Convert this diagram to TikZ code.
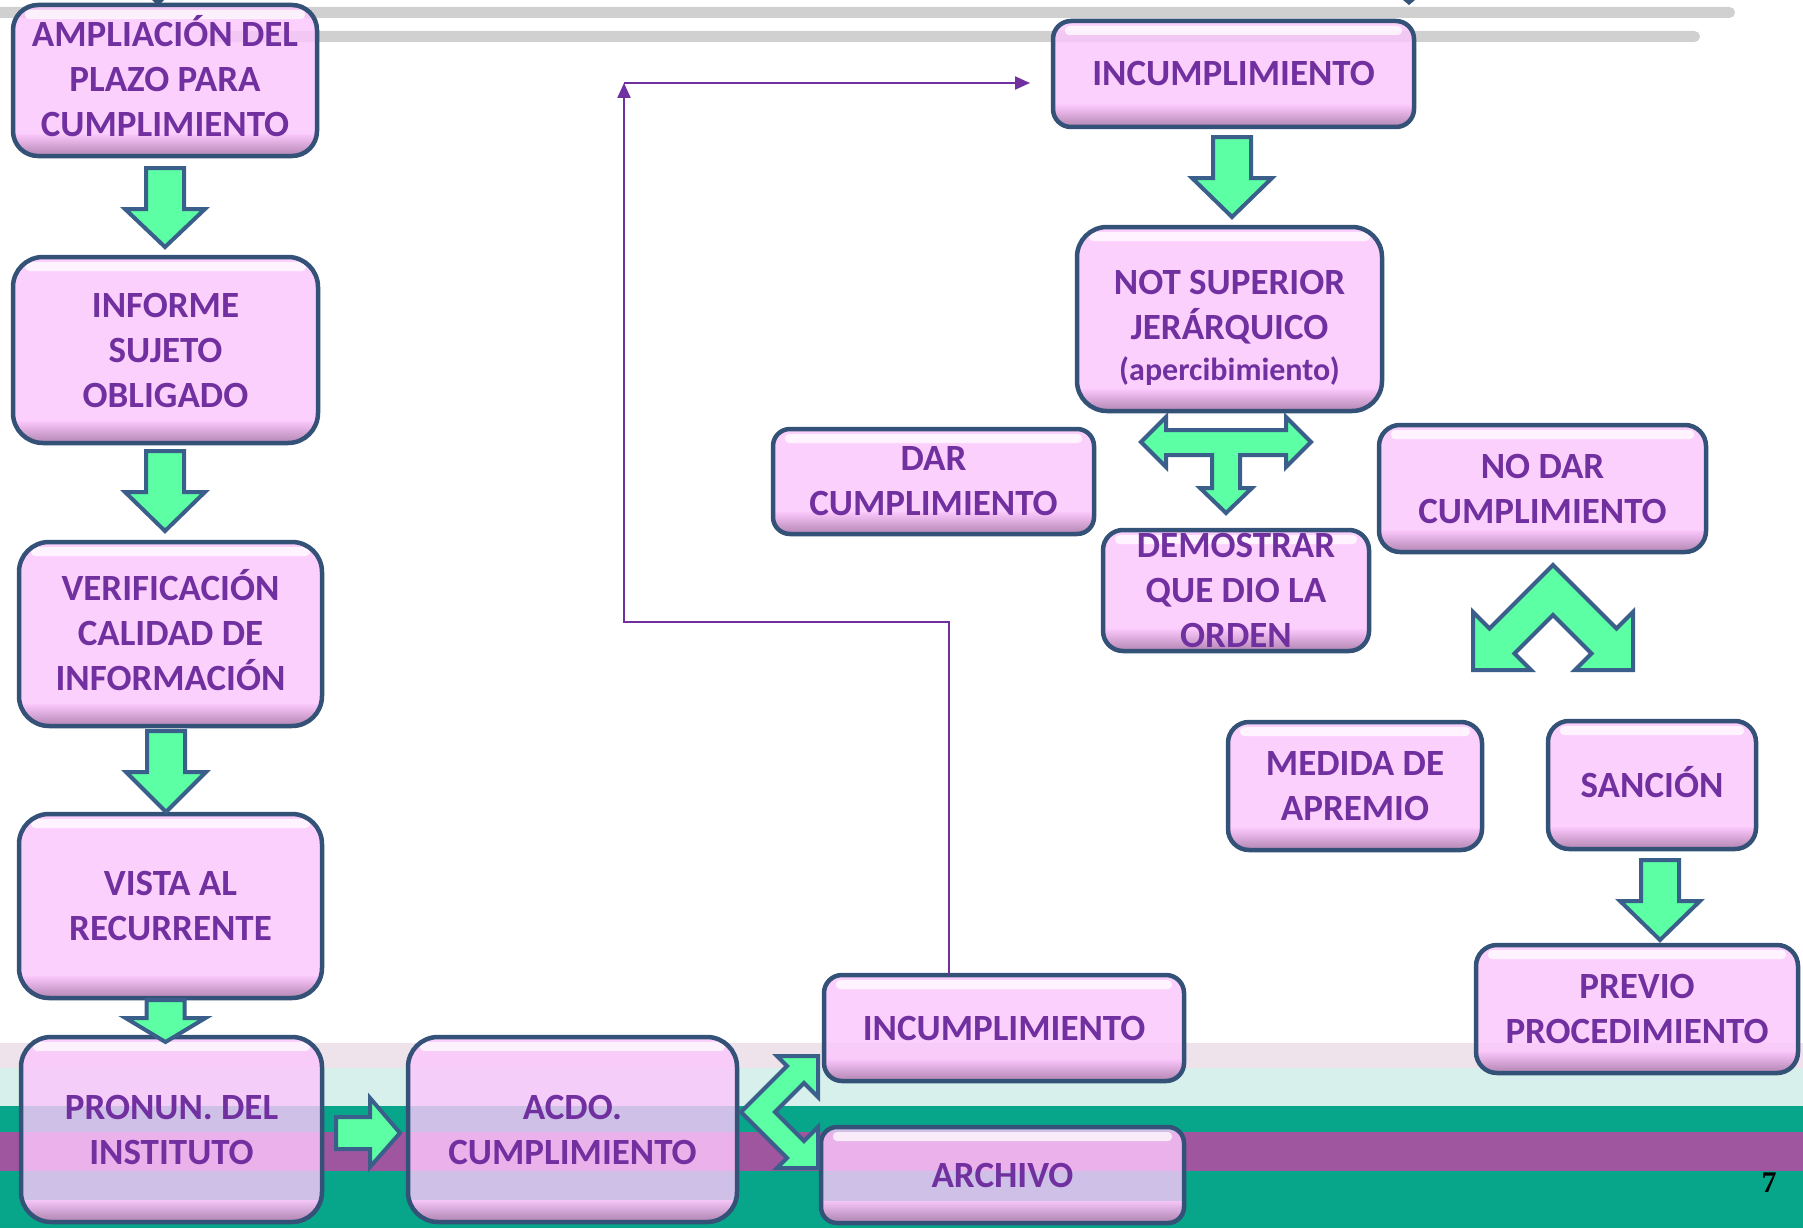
\documentclass[tikz,border=0pt]{standalone}
\usepackage{fontspec}
\setmainfont{Carlito}
\newfontfamily\pagenumfont{Liberation Serif}
\usetikzlibrary{arrows.meta}
\definecolor{boxfill}{RGB}{251,198,251}
\definecolor{boxline}{RGB}{52,82,120}
\definecolor{txtpurple}{RGB}{112,48,160}
\definecolor{bevel}{RGB}{165,120,165}
\definecolor{agreen}{RGB}{92,255,164}
\definecolor{aline}{RGB}{58,95,138}
\definecolor{bargray}{RGB}{208,208,208}
\definecolor{bandpink}{RGB}{238,227,235}
\definecolor{bandcyan}{RGB}{216,240,236}
\definecolor{bandteal}{RGB}{7,166,138}
\definecolor{bandpurple}{RGB}{160,86,158}
\newcommand\boxfont{\bfseries\fontsize{37}{45}\selectfont}
\newcommand\bx[3]{\parbox[c][#2pt][c]{#1pt}{\centering #3}}
\newcommand\gdown[4]{\draw[garrow] (#1-19,#2) -- (#1+19,#2) -- (#1+19,#3) -- (#1+40,#3) -- (#1,#4) -- (#1-40,#3) -- (#1-19,#3) -- cycle;}
\tikzset{
  box/.style={draw=boxline, line width=4.5pt, fill=boxfill, fill opacity=0.82,
    text opacity=1, inner sep=0pt, outer sep=0pt, text=txtpurple, font=\boxfont,
    path picture={
      \fill[white, fill opacity=0.75, rounded corners=4pt]
        ([xshift=12pt,yshift=-5pt]path picture bounding box.north west) rectangle
        ([xshift=-12pt,yshift=-14pt]path picture bounding box.north east);
      \shade[sharp corners, top color=boxfill, bottom color=bevel, fill opacity=0.85]
        ([yshift=22pt]path picture bounding box.south west) rectangle
        (path picture bounding box.south east);
    }},
  garrow/.style={fill=agreen, draw=aline, line width=4pt, line join=miter},
  conn/.style={draw=txtpurple, line width=2.2pt},
  ctip/.style={-{Triangle[length=15pt,width=13pt]}}
}
\begin{document}
\begin{tikzpicture}[x=1pt,y=-1pt]
\useasboundingbox (0,0) rectangle (1803,1228);
\clip (0,0) rectangle (1803,1228);
% background bands
\fill[bandpink] (0,1043) rectangle (1803,1068);
\fill[bandcyan] (0,1068) rectangle (1803,1106);
\fill[bandteal] (0,1106) rectangle (1803,1228);
\fill[bandpurple] (0,1132) rectangle (1803,1171);
% top bars
\fill[bargray, rounded corners=5.5pt] (-20,7) rectangle (1735,18);
\fill[bargray, rounded corners=5.5pt] (200,31) rectangle (1700,42);
\fill[boxline] (152,0) -- (164,0) -- (158,6) -- cycle;
\fill[boxline] (1403,0) -- (1415,0) -- (1409,5) -- cycle;
% boxes
\node[box, rounded corners=25pt] (b1) at (165,80.5) {\bx{304}{151}{\vspace*{-9pt}AMPLIACIÓN DEL\\PLAZO PARA\\CUMPLIMIENTO}};
\node[box, rounded corners=30pt] (b2) at (165.5,350) {\bx{305}{186}{INFORME\\SUJETO\\OBLIGADO}};
\node[box, rounded corners=30pt] (b3) at (170.5,634) {\bx{303}{184}{\vspace*{-7pt}VERIFICACIÓN\\CALIDAD DE\\INFORMACIÓN}};
\node[box, rounded corners=30pt] (b4) at (170.5,906) {\bx{303}{184}{VISTA AL\\RECURRENTE}};
\node[box, rounded corners=30pt] (b5) at (171.5,1129.5) {\bx{301}{185}{PRONUN. DEL\\INSTITUTO}};
\node[box, rounded corners=30pt] (b6) at (572.5,1129.5) {\bx{329}{185}{ACDO.\\CUMPLIMIENTO}};
\node[box, rounded corners=18pt] (inc2) at (1004,1028) {\bx{360}{106}{INCUMPLIMIENTO}};
\node[box, rounded corners=16pt] (arch) at (1002.5,1175) {\bx{363}{96}{ARCHIVO}};
\node[box, rounded corners=18pt] (inc1) at (1233.5,74) {\bx{361}{106}{INCUMPLIMIENTO}};
\node[box, rounded corners=30pt] (nots) at (1229.5,319) {\bx{305}{184}{\vspace*{18pt}NOT SUPERIOR\\JERÁRQUICO\\[-4pt]{\fontsize{32}{42}\selectfont (apercibimiento)}}};
\node[box, rounded corners=17pt] (dar) at (933.5,481.5) {\bx{321}{105}{DAR\\CUMPLIMIENTO}};
\node[box, rounded corners=20pt] (dem) at (1236,590.5) {\bx{266}{121}{DEMOSTRAR\\QUE DIO LA\\ORDEN}};
\node[box, rounded corners=21pt] (nodar) at (1542.5,488.5) {\bx{327}{127}{NO DAR\\CUMPLIMIENTO}};
\node[box, rounded corners=21pt] (med) at (1355,786) {\bx{254}{128}{MEDIDA DE\\APREMIO}};
\node[box, rounded corners=21pt] (sanc) at (1652,785) {\bx{208}{128}{\vspace*{-5pt}SANCIÓN}};
\node[box, rounded corners=21pt] (prev) at (1637,1009) {\bx{322}{128}{PREVIO\\PROCEDIMIENTO}};
% purple connector
\coordinate (bend) at (949,622);
\coordinate (corner) at (624,83);
\draw[conn, ctip] (bend |- inc2.north) -- (bend) -| (corner);
\draw[conn, ctip, shorten >=23pt] (corner) -- (inc1.west |- corner);
% green block arrows
\gdown{165}{168}{209}{247}
\gdown{165}{451}{492}{531}
\gdown{166}{731}{772}{812}
\gdown{165.5}{1000}{1018}{1042}
\gdown{1232}{137}{178}{217}
\gdown{1660}{860}{901}{940}
\draw[garrow] (336,1117) -- (370,1117) -- (370,1098) -- (400,1133) -- (370,1167) -- (370,1149) -- (336,1149) -- cycle;
% T-shaped arrow
\draw[garrow] (1141,442) -- (1166,417) -- (1166,430) -- (1286,430) -- (1286,417) -- (1311,442) -- (1286,467) -- (1286,455) -- (1240,455) -- (1240,488) -- (1252,488) -- (1226,513) -- (1200,488) -- (1212,488) -- (1212,455) -- (1166,455) -- (1166,467) -- cycle;
% chevron at ACDO
\draw[garrow] (741,1112) -- (787,1066) -- (777,1056) -- (818,1056) -- (818,1097) -- (804,1083) -- (775,1112) -- (804,1141) -- (818,1127) -- (818,1168) -- (777,1168) -- (787,1158) -- cycle;
% chevron below NO DAR
\draw[garrow] (1553,565) -- (1616.5,628.5) -- (1633,612) -- (1633,670) -- (1575,670) -- (1591.5,653.5) -- (1553,615) -- (1514.5,653.5) -- (1531,670) -- (1473,670) -- (1473,612) -- (1489.5,628.5) -- cycle;
% page number
\node[font=\pagenumfont\bfseries\fontsize{30}{30}\selectfont, text=black, inner sep=0pt] (pg) at (1769,1183) {7};
\end{tikzpicture}
\end{document}
